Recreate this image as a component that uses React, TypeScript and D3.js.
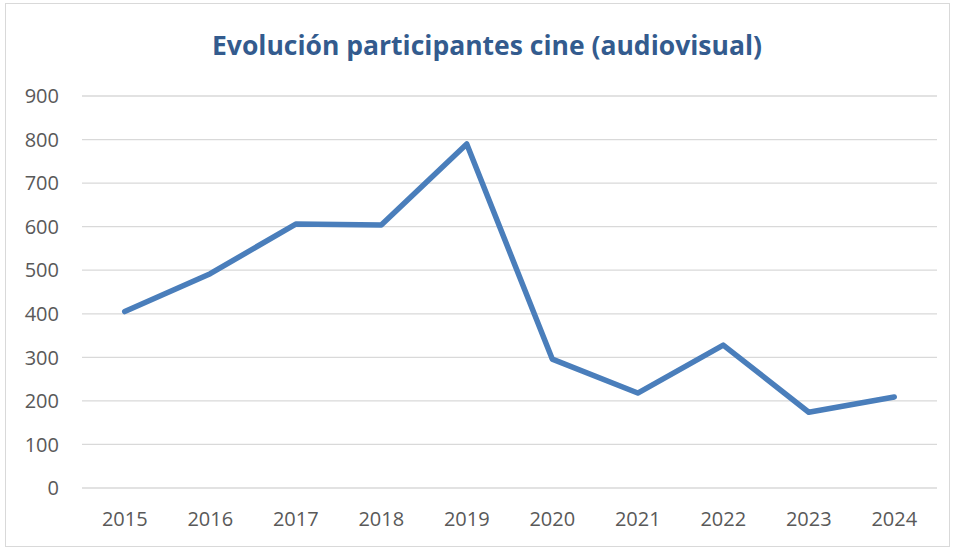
import React, { useEffect, useRef } from 'react';
import * as d3 from 'd3';

const years = ['2015', '2016', '2017', '2018', '2019', '2020', '2021', '2022', '2023', '2024'];
const participants = [405, 492, 606, 604, 790, 296, 218, 328, 174, 209];
const yTicks = [0, 100, 200, 300, 400, 500, 600, 700, 800, 900];
const title = 'Evolución participantes cine (audiovisual)';

const App: React.FC = () => {
  const svgRef = useRef<SVGSVGElement>(null);

  useEffect(() => {
    if (!svgRef.current) return;
    const svg = d3.select(svgRef.current);
    svg.selectAll('*').remove();

    const width = 955;
    const height = 550;
    const left = 82;
    const right = 937;
    const top = 96;
    const bottom = 488;
    const font = "'Open Sans', sans-serif";

    svg.append('rect')
      .attr('x', 5.5).attr('y', 3.5)
      .attr('width', width - 11).attr('height', height - 7)
      .attr('fill', '#fff')
      .attr('stroke', '#d9d9d9');

    const x = d3.scaleBand().domain(years).range([left, right]);
    const y = d3.scaleLinear().domain([0, 900]).range([bottom, top]);

    // gridlines
    svg.append('g')
      .selectAll('line')
      .data(yTicks)
      .enter()
      .append('line')
      .attr('x1', left).attr('x2', right)
      .attr('y1', d => y(d)).attr('y2', d => y(d))
      .attr('stroke', '#d9d9d9')
      .attr('stroke-width', 1.3);

    // y labels
    svg.append('g')
      .selectAll('text')
      .data(yTicks)
      .enter()
      .append('text')
      .attr('x', 59)
      .attr('y', d => y(d))
      .attr('dy', '0.36em')
      .attr('text-anchor', 'end')
      .attr('font-family', font)
      .attr('font-size', 20)
      .attr('fill', '#595959')
      .text(d => d);

    // x labels
    svg.append('g')
      .selectAll('text')
      .data(years)
      .enter()
      .append('text')
      .attr('x', d => (x(d) ?? 0) + x.bandwidth() / 2)
      .attr('y', 519)
      .attr('dy', '0.36em')
      .attr('text-anchor', 'middle')
      .attr('font-family', font)
      .attr('font-size', 20)
      .attr('fill', '#595959')
      .text(d => d);

    const line = d3.line<number>()
      .x((_, i) => (x(years[i]) ?? 0) + x.bandwidth() / 2)
      .y(d => y(d));

    svg.append('path')
      .attr('d', line(participants))
      .attr('fill', 'none')
      .attr('stroke', '#4a7ebb')
      .attr('stroke-width', 5.5)
      .attr('stroke-linejoin', 'round')
      .attr('stroke-linecap', 'round');

    svg.append('text')
      .attr('x', 487)
      .attr('y', 45)
      .attr('dy', '0.36em')
      .attr('text-anchor', 'middle')
      .attr('font-family', font)
      .attr('font-weight', 'bold')
      .attr('font-size', 26.5)
      .attr('fill', '#335b8e')
      .text(title);
  }, []);

  return (
    <div style={{ position: 'fixed', left: 0, top: 0 }}>
      <svg ref={svgRef} width={955} height={550} style={{ display: 'block' }}></svg>
    </div>
  );
};

export default App;
